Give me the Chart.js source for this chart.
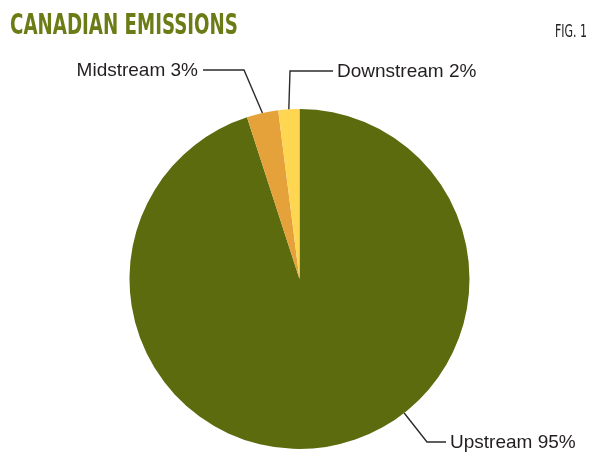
<!DOCTYPE html>
<html>
<head>
<meta charset="utf-8">
<script src="https://cdn.jsdelivr.net/npm/chart.js@4"></script>
<style>
  html, body { margin: 0; padding: 0; background: #fff; }
  #wrap { position: relative; width: 600px; height: 458px; overflow: hidden; }
  #chart { position: absolute; left: 0; top: 0; }
  .head { position: absolute; white-space: nowrap; transform-origin: 0 0; line-height: 1; }
  #title { left: 10px; top: 8px; font: bold 28px "Liberation Sans Narrow", "DejaVu Sans Condensed", "Liberation Sans", sans-serif; color: #6b7c16; }
  #fig { left: 555px; top: 21px; font: 17px "Liberation Sans Narrow", "DejaVu Sans Condensed", "Liberation Sans", sans-serif; color: #222; }
</style>
</head>
<body>
<div id="wrap">
  <canvas id="chart" width="600" height="458"></canvas>
  <div id="title" class="head">CANADIAN EMISSIONS</div>
  <div id="fig" class="head">FIG. 1</div>
</div>
<script>
// data
const sectors = ["Upstream", "Midstream", "Downstream"];
const shares = [95, 3, 2];
const colors = ["#5b6b0e", "#e5a23a", "#fed652"];

// leader lines: where the line leaves the pie (deg clockwise from top, null = slice middle),
// the elbow, and the end where the text starts
const leaders = [
  { angle: 142, elbow: [427, 442], end: [446, 442], align: "left" },
  { angle: null, elbow: [244, 70], end: [203, 70], align: "right" },
  { angle: null, elbow: [290, 71], end: [333, 71], align: "left" }
];

// squeeze the header text to the widths seen in the picture
function fitWidth(id, target) {
  const el = document.getElementById(id);
  const w = el.getBoundingClientRect().width;
  if (w > 0) el.style.transform = "scaleX(" + (target / w) + ")";
}
fitWidth("title", 228);
fitWidth("fig", 32);

const leaderPlugin = {
  id: "leaders",
  afterDraw(chart) {
    const ctx = chart.ctx;
    const arcs = chart.getDatasetMeta(0).data;
    ctx.save();
    ctx.strokeStyle = "#2b2b2b";
    ctx.lineWidth = 1.4;
    ctx.fillStyle = "#231f20";
    ctx.font = "19px 'Liberation Sans', Arial, sans-serif";
    ctx.textBaseline = "middle";
    arcs.forEach((arc, i) => {
      const spec = leaders[i];
      const p = arc.getProps(["x", "y", "startAngle", "endAngle", "outerRadius"], true);
      let a = (p.startAngle + p.endAngle) / 2;
      if (spec.angle !== null) a = (spec.angle - 90) * Math.PI / 180;
      const sx = p.x + Math.cos(a) * p.outerRadius;
      const sy = p.y + Math.sin(a) * p.outerRadius;
      ctx.beginPath();
      ctx.moveTo(sx, sy);
      ctx.lineTo(spec.elbow[0], spec.elbow[1]);
      ctx.lineTo(spec.end[0], spec.end[1]);
      ctx.stroke();
      const text = sectors[i] + " " + shares[i] + "%";
      ctx.textAlign = spec.align;
      const tx = spec.align === "left" ? spec.end[0] + 4 : spec.end[0] - 5;
      ctx.fillText(text, tx, spec.end[1] + 1);
    });
    ctx.restore();
  }
};

new Chart(document.getElementById("chart"), {
  type: "pie",
  data: {
    labels: sectors,
    datasets: [{ data: shares, backgroundColor: colors, borderWidth: 0 }]
  },
  options: {
    responsive: false,
    animation: false,
    layout: { padding: { left: 129.5, right: 130.5, top: 109, bottom: 9 } },
    plugins: { legend: { display: false }, tooltip: { enabled: false } }
  },
  plugins: [leaderPlugin]
});
</script>
</body>
</html>
